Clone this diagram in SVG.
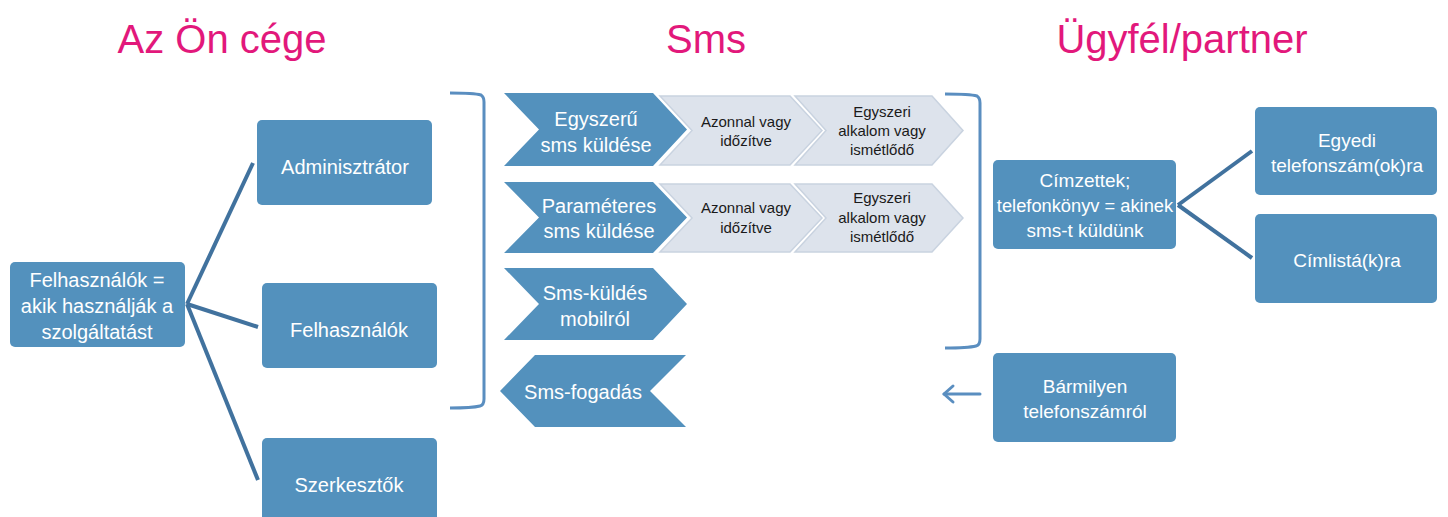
<svg xmlns="http://www.w3.org/2000/svg" width="1448" height="517" viewBox="0 0 1448 517">
<style>
.title{font-family:"Liberation Sans",Arial,sans-serif;font-size:40px;fill:#E2187B;text-anchor:middle}
.box{fill:#5391BD}
.bt{font-family:"Liberation Sans",Arial,sans-serif;font-size:20px;fill:#FFFFFF;text-anchor:middle}
.bt19{font-family:"Liberation Sans",Arial,sans-serif;font-size:19px;fill:#FFFFFF;text-anchor:middle}
.chev{fill:#5391BD}
.lchev{fill:#DDE3EC;stroke:#C9D3E0;stroke-width:1.5}
.lt{font-family:"Liberation Sans",Arial,sans-serif;font-size:15px;fill:#1A1A1A;text-anchor:middle}
.conn{stroke:#41729E;stroke-width:4;fill:none;stroke-linecap:butt}
.brk{stroke:#5A8EC0;stroke-width:3;fill:none}
</style>
<rect width="1448" height="517" fill="#FFFFFF"/>

<g id="titles">
<text class="title" x="222" y="53">Az Ön cége</text>
<text class="title" x="706" y="53">Sms</text>
<text class="title" x="1182" y="53">Ügyfél/partner</text>
</g>

<g id="connectors">
<line class="conn" x1="187" y1="304" x2="253" y2="163"/>
<line class="conn" x1="187" y1="304" x2="258" y2="327"/>
<line class="conn" x1="187" y1="304" x2="258" y2="480"/>
<line class="conn" x1="1178" y1="205" x2="1252" y2="151"/>
<line class="conn" x1="1178" y1="205" x2="1252" y2="258"/>
<path class="brk" d="M450,93 Q474,93 481,95 Q484,97 484,102 L484,399 Q484,405 480,406 Q472,408 450,408"/>
<path class="brk" d="M945,94 Q970,94 977,96 Q980,98 980,103 L980,339 Q980,345 976,346 Q968,348 945,348"/>
<g id="arrow" stroke="#5A8EC0" stroke-width="3" fill="none" stroke-linecap="round" stroke-linejoin="round">
<line x1="980" y1="394" x2="944" y2="394"/>
<polyline points="953,386 944,394 953,402"/>
</g>
</g>

<g id="felhasznalok-main">
<rect class="box" x="10" y="262" width="175" height="85" rx="5"/>
<text class="bt" x="97" y="287">Felhasználók =</text>
<text class="bt" x="97" y="313">akik használják a</text>
<text class="bt" x="97" y="339">szolgáltatást</text>
</g>
<g id="adminisztrator">
<rect class="box" x="257" y="120" width="175" height="85" rx="5"/>
<text class="bt" x="345" y="174">Adminisztrátor</text>
</g>
<g id="felhasznalok">
<rect class="box" x="262" y="283" width="175" height="85" rx="5"/>
<text class="bt" x="349" y="337">Felhasználók</text>
</g>
<g id="szerkesztok">
<rect class="box" x="262" y="438" width="175" height="90" rx="5"/>
<text class="bt" x="349" y="492">Szerkesztők</text>
</g>

<g id="row1-light2">
<polygon class="lchev" points="795,96 932,96 963,130.5 932,165 795,165 826,130.5"/>
<text class="lt" x="882" y="117">Egyszeri</text>
<text class="lt" x="882" y="136">alkalom vagy</text>
<text class="lt" x="882" y="155">ismétlődő</text>
</g>
<g id="row1-light1">
<polygon class="lchev" points="660,96 790,96 822,130.5 790,165 660,165 692,130.5"/>
<text class="lt" x="746" y="127">Azonnal vagy</text>
<text class="lt" x="746" y="146">időzítve</text>
</g>
<g id="egyszeru">
<polygon class="chev" points="504,93 653,93 687,129.5 653,166 504,166 539,129.5"/>
<text class="bt" x="596" y="126">Egyszerű</text>
<text class="bt" x="596" y="152">sms küldése</text>
</g>

<g id="row2-light2">
<polygon class="lchev" points="795,184 932,184 963,218 932,252 795,252 826,218"/>
<text class="lt" x="882" y="203">Egyszeri</text>
<text class="lt" x="882" y="223">alkalom vagy</text>
<text class="lt" x="882" y="242">ismétlődő</text>
</g>
<g id="row2-light1">
<polygon class="lchev" points="660,184 790,184 822,218 790,252 660,252 692,218"/>
<text class="lt" x="746" y="213">Azonnal vagy</text>
<text class="lt" x="746" y="233">időzítve</text>
</g>
<g id="parameteres">
<polygon class="chev" points="504,182 653,182 687,217.5 653,253 504,253 539,217.5"/>
<text class="bt" x="599" y="213">Paraméteres</text>
<text class="bt" x="599" y="238">sms küldése</text>
</g>

<g id="mobilrol">
<polygon class="chev" points="504,268 653,268 687,304 653,340 504,340 539,304"/>
<text class="bt" x="595" y="300">Sms-küldés</text>
<text class="bt" x="595" y="326">mobilról</text>
</g>
<g id="fogadas">
<polygon class="chev" points="500,391 535,355 686,355 650,391 686,427 535,427"/>
<text class="bt" x="583" y="399">Sms-fogadás</text>
</g>

<g id="cimzettek">
<rect class="box" x="993" y="160" width="183" height="89" rx="5"/>
<text class="bt19" x="1085" y="187">Címzettek;</text>
<text class="bt19" x="1085" y="212" style="font-size:18.3px">telefonkönyv = akinek</text>
<text class="bt19" x="1085" y="237">sms-t küldünk</text>
</g>
<g id="egyedi">
<rect class="box" x="1255" y="107" width="182" height="88" rx="5"/>
<text class="bt19" x="1347" y="147">Egyedi</text>
<text class="bt19" x="1347" y="172">telefonszám(ok)ra</text>
</g>
<g id="cimlista">
<rect class="box" x="1255" y="214" width="182" height="89" rx="5"/>
<text class="bt19" x="1347" y="267">Címlistá(k)ra</text>
</g>
<g id="barmilyen">
<rect class="box" x="993" y="353" width="183" height="89" rx="5"/>
<text class="bt19" x="1085" y="393">Bármilyen</text>
<text class="bt19" x="1085" y="418">telefonszámról</text>
</g>
</svg>
